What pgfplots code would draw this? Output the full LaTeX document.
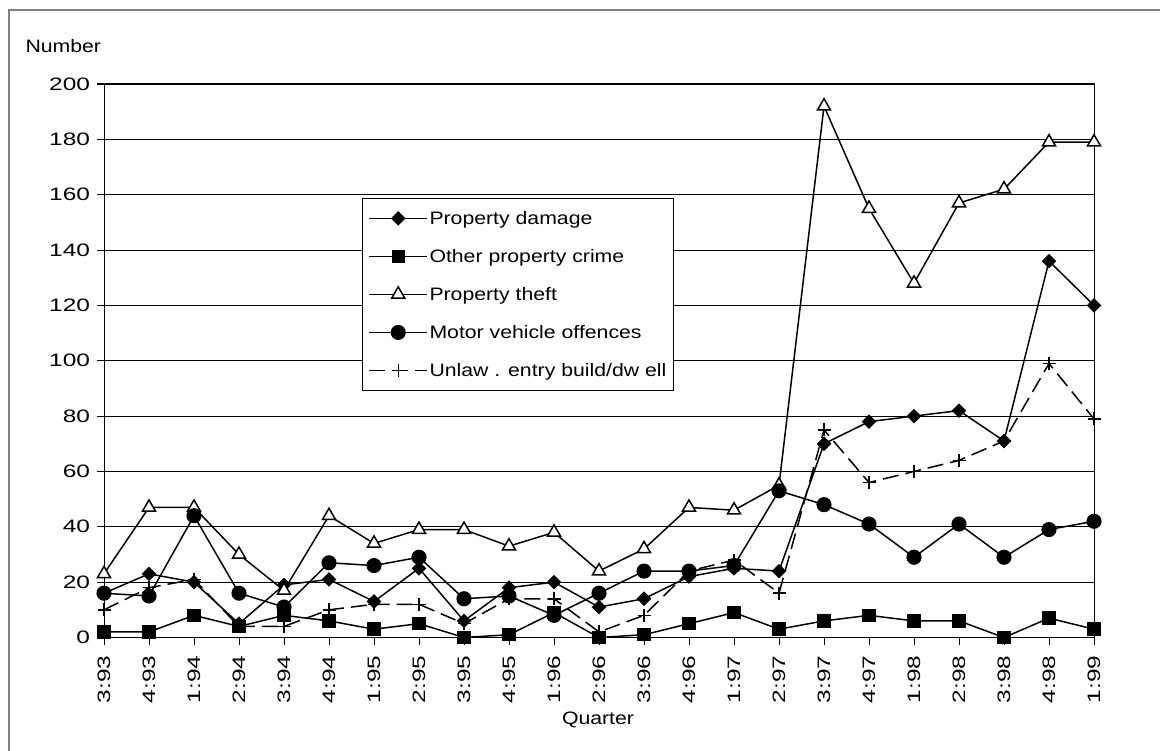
\documentclass[border=0pt]{standalone}
\usepackage{fontspec}
\setmainfont{Liberation Sans}[FakeStretch=1.18]
\usepackage{pgfplots}
\usepackage{pgfplotstable}
\pgfplotsset{compat=1.18}
\definecolor{framegray}{RGB}{128,128,128}
\pgfplotstableread{
x pd opc pt mvo ue
0 16 2 23 16 10
1 23 2 47 15 18
2 20 8 47 44 21
3 5 4 30 16 4
4 19 8 17 11 4
5 21 6 44 27 10
6 13 3 34 26 12
7 25 5 39 29 12
8 6 0 39 14 5
9 18 1 33 15 14
10 20 9 38 8 14
11 11 0 24 16 2
12 14 1 32 24 8
13 22 5 47 24 24
14 25 9 46 26 28
15 24 3 55 53 16
16 70 6 192 48 75
17 78 8 155 41 56
18 80 6 128 29 60
19 82 6 157 41 64
20 71 0 162 29 71
21 136 7 179 39 99
22 120 3 179 42 79
}\datatable
\newcommand{\chartfont}{\fontsize{18}{21.6}\selectfont}
\begin{document}
\begin{tikzpicture}
\useasboundingbox (0pt,0pt) rectangle (1160pt,-751pt);
\fill[white] (0pt,0pt) rectangle (1160pt,-751pt);
\draw[line width=2.2pt, framegray] (9pt,-770pt) -- (9pt,-10pt) -- (1180pt,-10pt);
\node[anchor=west, font=\chartfont] at (22pt,-46pt) {Number};
\node[font=\chartfont] at (598pt,-720pt) {Quarter};
\begin{axis}[
  at={(104pt,-637.5pt)}, anchor=south west,
  scale only axis, width=990pt, height=553.5pt,
  xmin=0, xmax=22, ymin=0, ymax=200,
  xtick={0,1,...,22},
  xticklabels={3:93,4:93,1:94,2:94,3:94,4:94,1:95,2:95,3:95,4:95,1:96,2:96,3:96,4:96,1:97,2:97,3:97,4:97,1:98,2:98,3:98,4:98,1:99},
  ytick={0,20,...,200},
  yticklabels={0,20,40,60,80,100,120,140,160,180,200},
  tick label style={font=\chartfont},
  x tick label style={yshift=-7pt, rotate=90, anchor=east, xscale=1.15},
  y tick label style={xshift=-3pt, anchor=east, xscale=1.15},
  ymajorgrids, grid style={black, line width=0.8pt},
  axis line style={black, line width=1pt},
  tick style={black, line width=1pt},
  tick align=outside, major tick length=7pt, tick pos=left,
  font=\chartfont,
  clip=false,
  legend cell align=left,
  legend style={at={(0.2606,0.794)}, anchor=north west, draw=black, line width=1pt,
    font=\chartfont, row sep=20.5pt, inner xsep=6pt, inner ysep=11pt,
    nodes={inner sep=1.5pt}},
  legend image code/.code={\draw[mark repeat=2,mark phase=2,#1] plot coordinates {(0pt,0pt) (29pt,0pt) (58pt,0pt)};},
  every axis plot/.append style={black, line width=1.5pt},
]
\addplot[mark=square*, mark size=4.4pt, mark options={rotate=45, solid}] table[x=x,y=pd]{\datatable};
\addlegendentry{Property damage}
\addplot[mark=square*, mark size=6pt, mark options={solid}] table[x=x,y=opc]{\datatable};
\addlegendentry{Other property crime}
\addplot[mark=triangle*, mark size=7.5pt, mark options={fill=white, solid}] table[x=x,y=pt]{\datatable};
\addlegendentry{Property theft}
\addplot[mark=*, mark size=6.8pt, mark options={solid}] table[x=x,y=mvo]{\datatable};
\addlegendentry{Motor vehicle offences}
\addplot[dash pattern=on 16pt off 7pt, mark=+, mark size=6.5pt, mark options={solid}] table[x=x,y=ue]{\datatable};
\addlegendentry{Unlaw . entry build/dw ell}
\end{axis}
\end{tikzpicture}
\end{document}
